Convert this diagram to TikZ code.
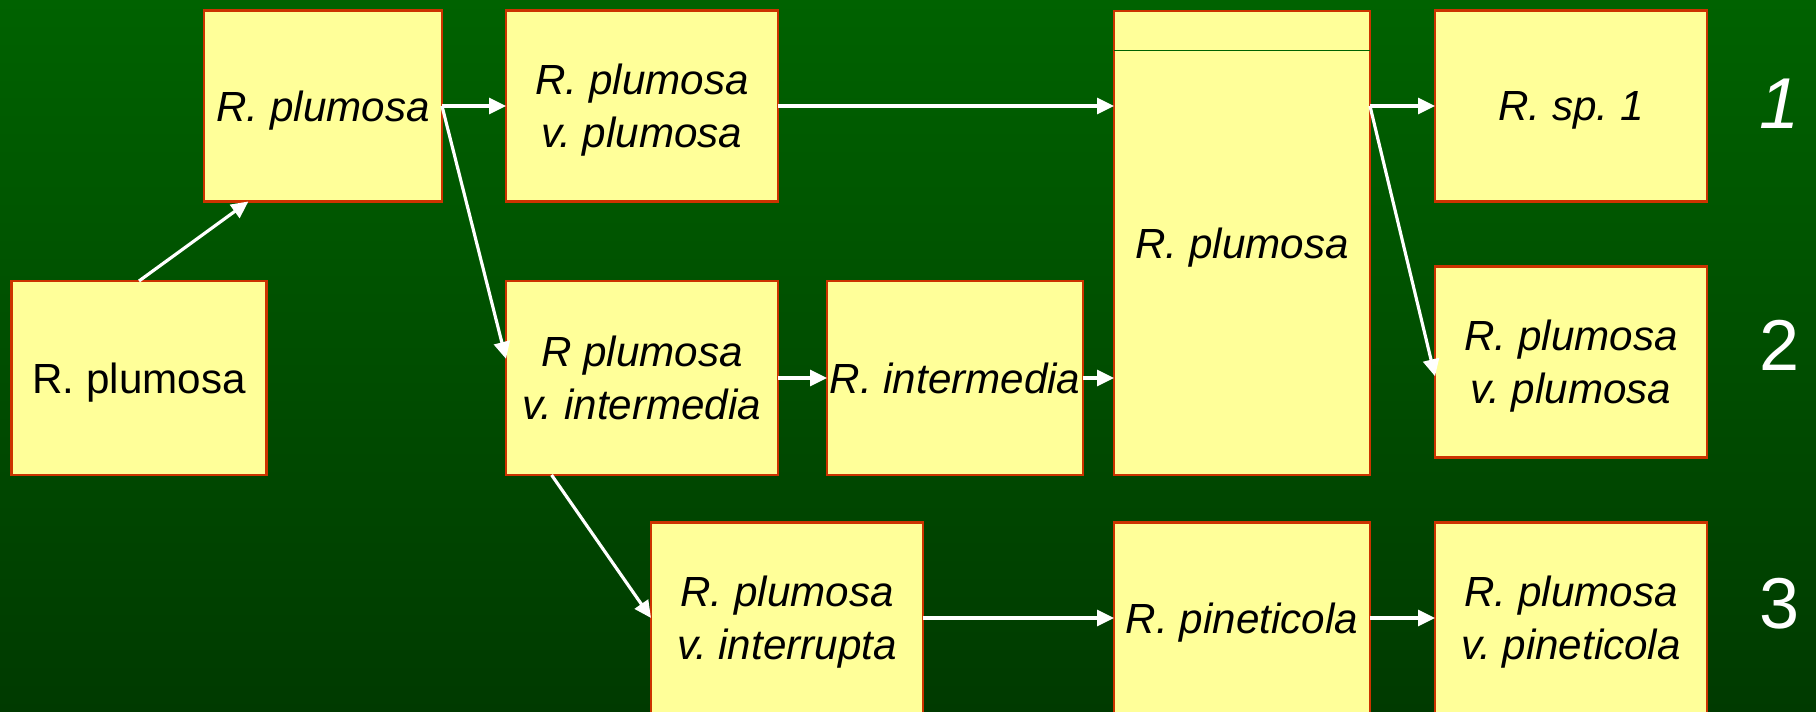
\documentclass[tikz,border=0pt]{standalone}
\usepackage{fontspec}
\setmainfont{Liberation Sans}
\frenchspacing
\usetikzlibrary{arrows.meta}
\definecolor{slidegreen}{RGB}{0,98,0}
\definecolor{slidemid}{RGB}{0,88,0}
\definecolor{slidedark}{RGB}{0,58,0}
\definecolor{boxfill}{RGB}{255,255,153}
\definecolor{boxline}{RGB}{204,51,0}
\tikzset{
  taxon/.style={draw=boxline, fill=boxfill, line width=1.5pt, minimum width=#1,
    minimum height=3.82cm, inner sep=0pt, outer sep=0pt, align=center, text depth=0pt,
    font=\fontsize{24}{30}\selectfont\itshape},
  taxon/.default=5.44cm,
  lineage/.style={text=white, font=\fontsize{41}{41}\selectfont}
}
\begin{document}
\begin{tikzpicture}[x=0.02cm, y=-0.02cm]
      \shade[top color=slidegreen, middle color=slidemid, bottom color=slidedark] (0,0) rectangle (1816,712);
      \useasboundingbox (0,0) rectangle (1816,712);
      \draw
        (139,378) node[taxon=5.1cm, minimum height=3.88cm, font=\fontsize{24}{30}\selectfont] (rp){R. plumosa}
        (323,106) node[taxon=4.76cm] (rpit){R. plumosa}
        (642,106) node[taxon] (vpl){R. plumosa\\v. plumosa}
        (642,378) node[taxon, minimum height=3.88cm] (vint){R plumosa\\v. intermedia}
        (955,378) node[taxon=5.12cm, minimum height=3.88cm] (inter){R. intermedia}
        (1242,243) node[taxon=5.12cm, minimum height=9.28cm] (big){R. plumosa}
        (1571,106) node[taxon] (sp){R. sp. 1}
        (1571,362) node[taxon] (vpl2){R. plumosa\\v. plumosa}
        (787,618) node[taxon] (vintr){R. plumosa\\v. interrupta}
        (1242,618) node[taxon=5.12cm] (pin){R. pineticola}
        (1571,618) node[taxon] (vpin){R. plumosa\\v. pineticola}
        (1780,104) node[lineage, font=\fontsize{41}{41}\selectfont\itshape] (one){1}
        (1780,345) node[lineage] (two){2}
        (1780,604) node[lineage] (three){3};
      \draw[slidegreen, line width=0.6pt] ([yshift=-0.79cm]big.north west) -- ([yshift=-0.79cm]big.north east);
      \begin{scope}[-{Triangle[length=0.34cm,width=0.32cm]}, white, line width=1.8pt]
        \draw (rp.north) to (rpit.232);
        \draw (rpit.east) to (vpl.west);
        \draw (rpit.east) to (vint.172);
        \draw (vpl.east) to (vpl.east -| big.west);
        \draw (vint.east) to (inter.west);
        \draw (inter.east) to (inter.east -| big.west);
        \draw (vint.227) to (vintr.west);
        \draw (sp.west -| big.east) to (sp.west);
        \draw (sp.west -| big.east) to (vpl2.186);
        \draw (vintr.east) to (pin.west);
        \draw (pin.east) to (vpin.west);
      \end{scope}
    \end{tikzpicture}
\end{document}
